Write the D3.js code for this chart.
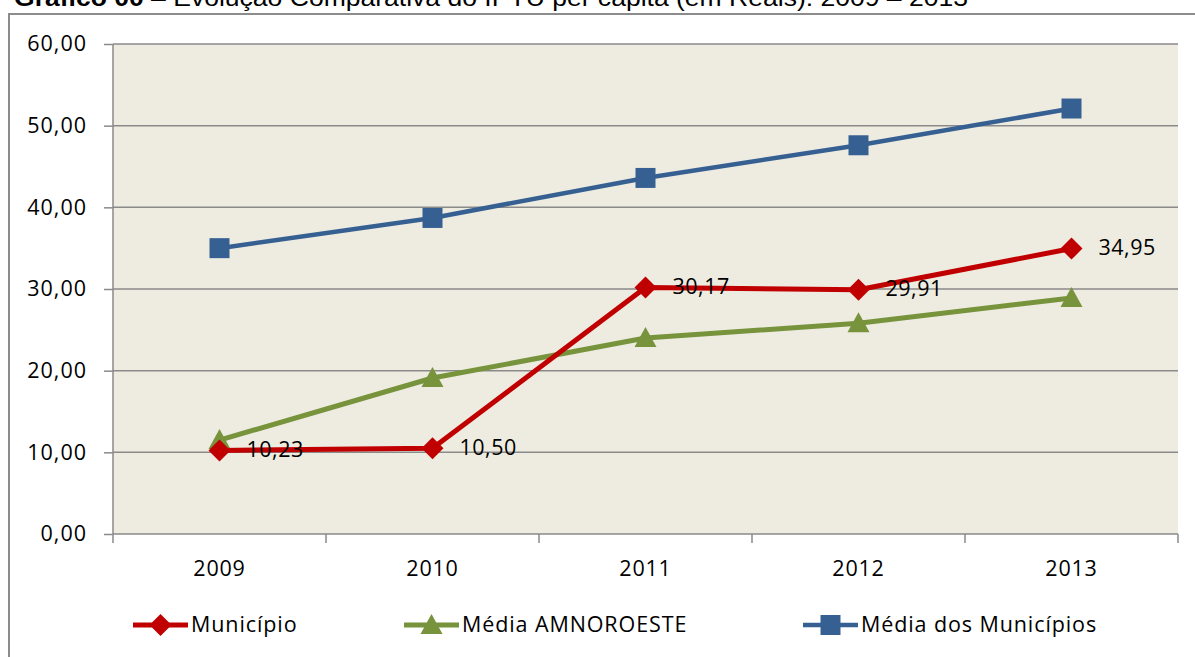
<!DOCTYPE html>
<html>
<head>
<meta charset="utf-8">
<script src="https://cdn.jsdelivr.net/npm/d3@7"></script>
<style>
  html, body { margin: 0; padding: 0; background: #fff; }
  svg { display: block; }
  text { font-family: "Open Sans", "Noto Sans", sans-serif; }
</style>
</head>
<body>
<svg id="chart" width="1195" height="657"></svg>
<script>
const categories = ["2009", "2010", "2011", "2012", "2013"];
const municipio = [10.23, 10.50, 30.17, 29.91, 34.95];
const mediaAmnoroeste = [11.5, 19.1, 24.0, 25.8, 28.9];
const mediaMunicipios = [35.0, 38.7, 43.6, 47.6, 52.1];
const yTicks = [0, 10, 20, 30, 40, 50, 60];
const seriesNames = ["Município", "Média AMNOROESTE", "Média dos Municípios"];
const titleBold = "Gráfico 00";
const titleRest = " – Evolução Comparativa do IPTU per capita (em Reais): 2009 – 2013";

const svg = d3.select("#chart");
const W = 1195, H = 657;
const plot = { left: 113, right: 1178, top: 44, bottom: 534 };
const FS = "21.5px";

// title (partially cut off at the top, as in the reference)
const title = svg.append("text")
  .attr("x", 14).attr("y", 6)
  .style("font-family", "Arial, 'Liberation Sans', sans-serif")
  .style("font-size", "24px").attr("fill", "#000")
  .attr("textLength", 954).attr("lengthAdjust", "spacingAndGlyphs");
title.append("tspan").attr("font-weight", "bold").text(titleBold);
title.append("tspan").text(titleRest);

// outer frame
svg.append("rect")
  .attr("x", 9).attr("y", 14).attr("width", W + 20).attr("height", H + 20)
  .attr("fill", "none").attr("stroke", "#8c8c8c").attr("stroke-width", 2);

const x = d3.scaleBand().domain(categories).range([plot.left, plot.right]);
const y = d3.scaleLinear().domain([0, 60]).range([plot.bottom, plot.top]);
const cx = d => x(d) + x.bandwidth() / 2;

// plot background
svg.append("rect")
  .attr("x", plot.left).attr("y", plot.top)
  .attr("width", plot.right - plot.left).attr("height", plot.bottom - plot.top)
  .attr("fill", "#EEECE1");

// gridlines
svg.append("g").selectAll("line").data(yTicks.filter(t => t > 0)).join("line")
  .attr("x1", plot.left).attr("x2", plot.right)
  .attr("y1", d => y(d)).attr("y2", d => y(d))
  .attr("stroke", "#8a8a8a").attr("stroke-width", 1.5);

// y axis
const yAxis = svg.append("g").attr("transform", `translate(${plot.left},0)`)
  .call(d3.axisLeft(y).tickValues(yTicks).tickSize(9).tickPadding(17)
    .tickFormat(d => d3.format(".2f")(d).replace(".", ",")));
yAxis.select(".domain").attr("stroke", "#8a8a8a").attr("stroke-width", 1.5)
  .attr("d", `M0,${plot.top}V${plot.bottom}`);
yAxis.selectAll(".tick line").attr("stroke", "#8a8a8a").attr("stroke-width", 1.5);
yAxis.selectAll(".tick text").style("font-size", FS).attr("fill", "#000")
  .style("font-family", "'Open Sans', sans-serif").attr("letter-spacing", "1px");

// x axis
const xAxis = svg.append("g").attr("transform", `translate(0,${plot.bottom})`)
  .call(d3.axisBottom(x).tickSize(0).tickPadding(27));
xAxis.select(".domain").attr("stroke", "#8a8a8a").attr("stroke-width", 1.5)
  .attr("d", `M${plot.left},0H${plot.right}`);
xAxis.selectAll(".tick text").style("font-size", FS).attr("fill", "#000")
  .style("font-family", "'Open Sans', sans-serif").attr("letter-spacing", "0.8px");
// category boundary ticks
const bounds = categories.map(c => x(c)).concat([plot.right]);
svg.append("g").selectAll("line").data(bounds).join("line")
  .attr("x1", d => d).attr("x2", d => d)
  .attr("y1", plot.bottom).attr("y2", plot.bottom + 9)
  .attr("stroke", "#8a8a8a").attr("stroke-width", 1.5);

const series = [
  { name: seriesNames[0], values: municipio, color: "#C00000", marker: "diamond", width: 5, labels: true },
  { name: seriesNames[1], values: mediaAmnoroeste, color: "#77933C", marker: "triangle", width: 5, labels: false },
  { name: seriesNames[2], values: mediaMunicipios, color: "#376092", marker: "square", width: 4.5, labels: false }
];

function markerPath(type) {
  if (type === "diamond") return "M0,-11L11,0L0,11L-11,0Z";
  if (type === "triangle") return "M0,-11L11,9L-11,9Z";
  return "M-10,-10H10V10H-10Z";
}

const line = d3.line().x((d, i) => cx(categories[i])).y(d => y(d));

// draw in order: blue, green, red so red on top
[series[2], series[1], series[0]].forEach(s => {
  const g = svg.append("g");
  g.append("path").datum(s.values).attr("d", line)
    .attr("fill", "none").attr("stroke", s.color).attr("stroke-width", s.width)
    .attr("stroke-linejoin", "round");
  g.selectAll("path.m").data(s.values).join("path").attr("class", "m")
    .attr("transform", (d, i) => `translate(${cx(categories[i])},${y(d)})`)
    .attr("d", markerPath(s.marker)).attr("fill", s.color);
  if (s.labels) {
    g.selectAll("text").data(s.values).join("text")
      .attr("x", (d, i) => cx(categories[i]) + 27)
      .attr("y", d => y(d) + 1)
      .attr("dominant-baseline", "middle")
      .style("font-size", FS).attr("letter-spacing", "0.5px").attr("fill", "#000")
      .text(d => d3.format(".2f")(d).replace(".", ","));
  }
});

// legend
const legendX = [133, 404, 803];
const legendY = 625;
series.forEach((s, i) => {
  const g = svg.append("g").attr("transform", `translate(${legendX[i]},${legendY})`);
  g.append("line").attr("x1", 0).attr("x2", 55).attr("y1", 0).attr("y2", 0)
    .attr("stroke", s.color).attr("stroke-width", s.width);
  g.append("path").attr("transform", "translate(27.5,0)").attr("d", markerPath(s.marker)).attr("fill", s.color);
  g.append("text").attr("x", 58).attr("y", 1).attr("dominant-baseline", "middle")
    .style("font-size", FS).attr("letter-spacing", "0.9px").attr("fill", "#000").text(s.name);
});
</script>
</body>
</html>
